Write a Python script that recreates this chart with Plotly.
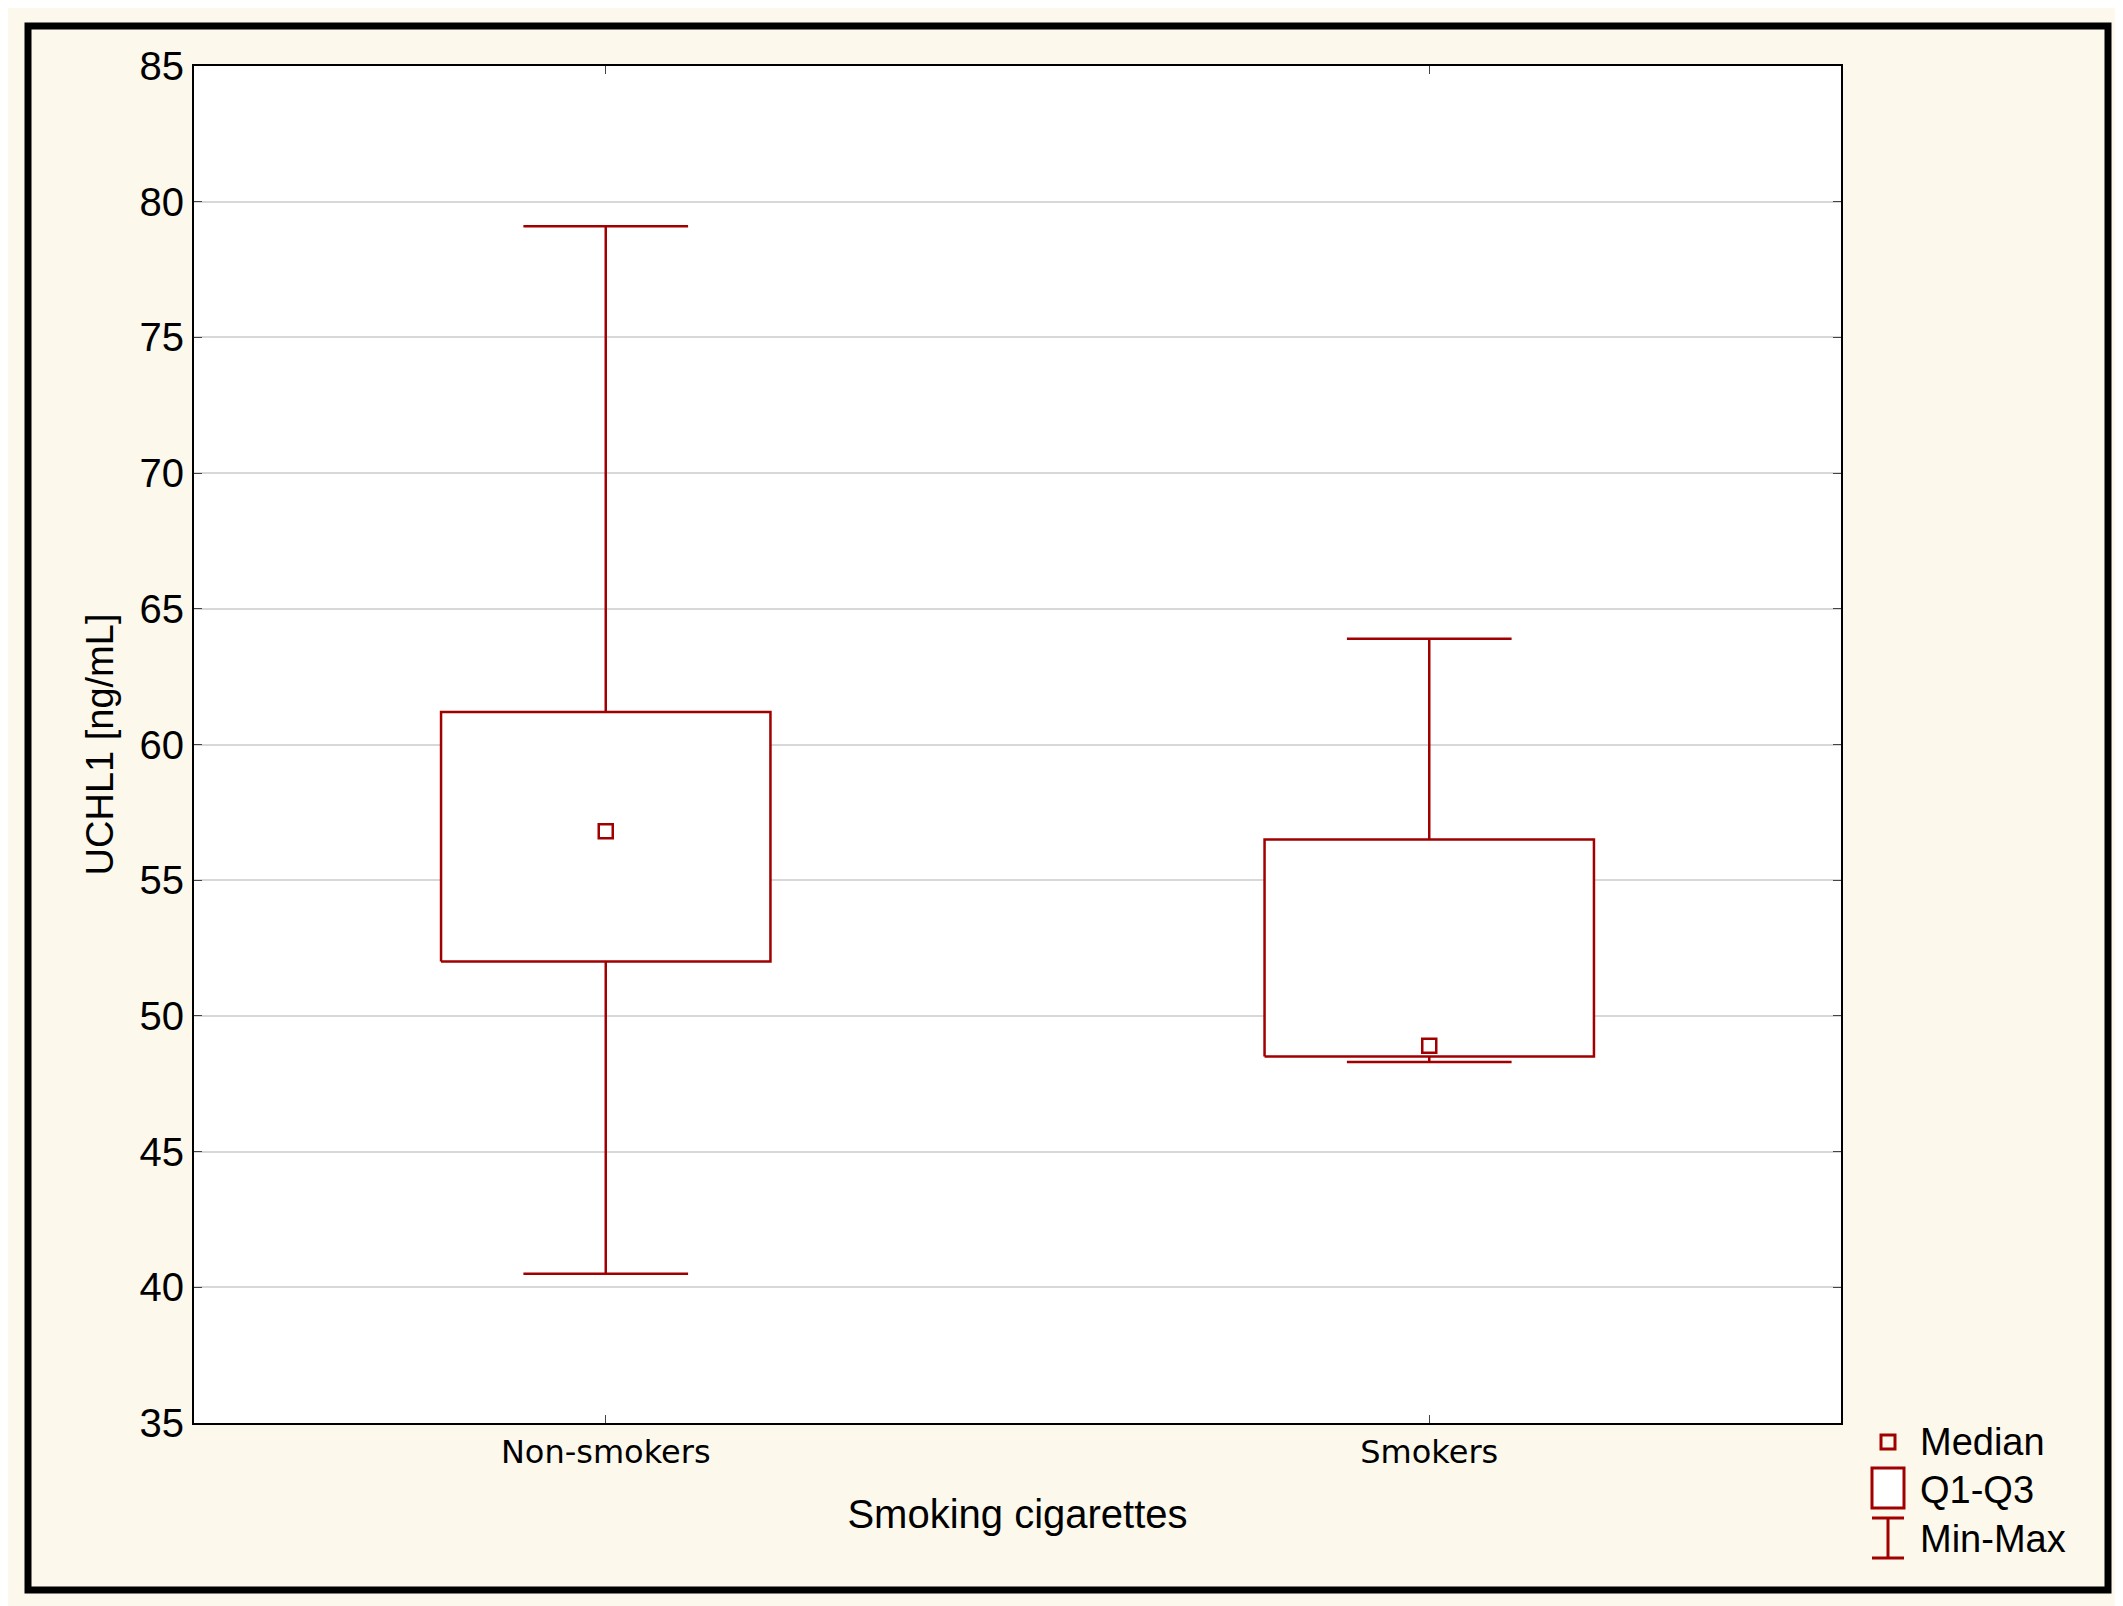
import plotly.graph_objects as go

groups = ['Non-smokers', 'Smokers']
mins = [40.5, 48.3]
q1s = [52.0, 48.5]
medians = [56.8, 48.9]
q3s = [61.2, 56.5]
maxs = [79.1, 63.9]

RED = '#a00000'
BOX_HW = 0.2
CAP_HW = 0.1
L, R, T, B = 186, 290, 58, 191
PW = 2123 - L - R
PH = 1606 - T - B

fig = go.Figure()
for i, g in enumerate(groups):
    # Q1-Q3 box
    fig.add_trace(go.Scatter(
        x=[i - BOX_HW, i + BOX_HW, i + BOX_HW, i - BOX_HW, i - BOX_HW],
        y=[q1s[i], q1s[i], q3s[i], q3s[i], q1s[i]],
        mode='lines', line=dict(color=RED, width=2.5),
        fill='toself', fillcolor='white', showlegend=False, hoverinfo='skip'))
    # whiskers + caps
    fig.add_trace(go.Scatter(
        x=[i, i, None, i, i, None, i - CAP_HW, i + CAP_HW, None, i - CAP_HW, i + CAP_HW],
        y=[q3s[i], maxs[i], None, q1s[i], mins[i], None, maxs[i], maxs[i], None, mins[i], mins[i]],
        mode='lines', line=dict(color=RED, width=2.5), showlegend=False, hoverinfo='skip'))
    fig.add_trace(go.Scatter(
        x=[i], y=[medians[i]], mode='markers',
        marker=dict(symbol='square-open', size=14, color=RED, line=dict(width=2.5)),
        name=g, showlegend=False))

def px(xpx):
    return (xpx - L) / PW
def py(ypx):
    return (1606 - B - ypx) / PH

# outer frame
fig.add_shape(type='rect', xref='paper', yref='paper',
              x0=px(20), x1=px(2100), y0=py(1582), y1=py(18),
              line=dict(color='black', width=7))

# custom legend
lx = px(1880)
tx = px(1910)
fig.add_shape(type='rect', xref='paper', yref='paper',
              x0=lx - 7/PW, x1=lx + 7/PW, y0=py(1441), y1=py(1427),
              line=dict(color=RED, width=3))
fig.add_shape(type='rect', xref='paper', yref='paper',
              x0=lx - 16/PW, x1=lx + 16/PW, y0=py(1500), y1=py(1460),
              line=dict(color=RED, width=3), fillcolor='white')
for x0, y0, x1, y1 in [(lx - 16/PW, py(1510), lx + 16/PW, py(1510)),
                       (lx - 16/PW, py(1550), lx + 16/PW, py(1550)),
                       (lx, py(1510), lx, py(1550))]:
    fig.add_shape(type='line', xref='paper', yref='paper', x0=x0, y0=y0, x1=x1, y1=y1,
                  line=dict(color=RED, width=3))
for txt, ypx in [('Median', 1434), ('Q1-Q3', 1482), ('Min-Max', 1531)]:
    fig.add_annotation(text=txt, xref='paper', yref='paper', x=tx, y=py(ypx),
                       xanchor='left', yanchor='middle', showarrow=False,
                       font=dict(size=38, color='black'))

fig.update_layout(
    width=2123, height=1606,
    margin=dict(l=L, r=R, t=T, b=B),
    paper_bgcolor='#fdf8ec', plot_bgcolor='white',
    font=dict(family='Liberation Sans, Arial', color='black'),
    xaxis=dict(range=[-0.5, 1.5], tickvals=[0, 1], ticktext=groups,
               ticks='inside', ticklen=8, mirror='ticks', showline=True,
               linecolor='black', linewidth=2, showgrid=False, zeroline=False,
               tickfont=dict(size=32, family='DejaVu Sans'),
               title=dict(text='Smoking cigarettes', font=dict(size=40), standoff=30)),
    yaxis=dict(range=[35, 85], dtick=5, ticks='inside', ticklen=8, mirror='ticks',
               showline=True, linecolor='black', linewidth=2,
               gridcolor='#d8d8d8', gridwidth=2, zeroline=False,
               tickfont=dict(size=40),
               title=dict(text='UCHL1 [ng/mL]', font=dict(size=38), standoff=14)),
)

fig.write_html('out.html')
